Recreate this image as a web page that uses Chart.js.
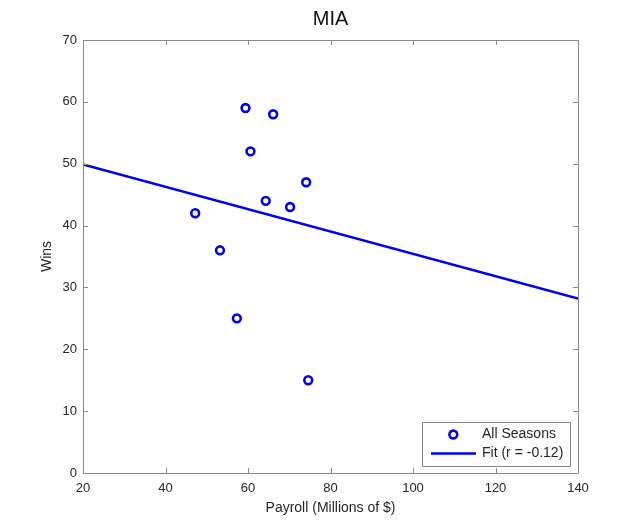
<!DOCTYPE html>
<html>
<head>
<meta charset="utf-8">
<script src="https://cdn.jsdelivr.net/npm/chart.js@4"></script>
<style>
html,body{margin:0;padding:0;background:#fff;}
#wrap{width:638px;height:532px;}
</style>
</head>
<body>
<div id="wrap"><canvas id="c" width="638" height="532"></canvas></div>
<script>
// Data
const payroll = [59.4, 66.1, 60.6, 74.1, 64.3, 70.2, 47.2, 53.2, 57.3, 74.6];
const wins    = [59,   58,   52,   47,   44,   43,   42,   36,   25,   15];
const fitX = [20, 140];
const fitY = [49.9, 28.2];
const xTicks = [20, 40, 60, 80, 100, 120, 140];
const yTicks = [0, 10, 20, 30, 40, 50, 60, 70];

const BLUE = '#0000ff';
const AXIS = '#8a8a8a';
const TEXT = '#262626';
const FONT = '"Liberation Sans", Arial, Helvetica, sans-serif';

const pts = payroll.map((x, i) => ({x: x, y: wins[i]}));
const fit = fitX.map((x, i) => ({x: x, y: fitY[i]}));

const boxPlugin = {
  id: 'boxTicks',
  afterDatasetsDraw(chart) {
    const {ctx, chartArea: a, scales: {x, y}} = chart;
    ctx.save();
    ctx.strokeStyle = AXIS;
    ctx.lineWidth = 1;
    ctx.beginPath();
    ctx.rect(Math.round(a.left) + 0.5, Math.round(a.top) + 0.5,
             Math.round(a.right - a.left), Math.round(a.bottom - a.top));
    ctx.stroke();
    const L = 5;
    ctx.beginPath();
    xTicks.forEach(v => {
      const px = Math.round(x.getPixelForValue(v)) + 0.5;
      ctx.moveTo(px, a.bottom); ctx.lineTo(px, a.bottom - L);
      ctx.moveTo(px, a.top); ctx.lineTo(px, a.top + L);
    });
    yTicks.forEach(v => {
      const py = Math.round(y.getPixelForValue(v)) + 0.5;
      ctx.moveTo(a.left, py); ctx.lineTo(a.left + L, py);
      ctx.moveTo(a.right, py); ctx.lineTo(a.right - L, py);
    });
    ctx.stroke();

    // Legend box (lower right, inside axes)
    const ds = chart.data.datasets;
    const bx = 422.5, by = 422.5, bw = 148, bh = 44;
    ctx.fillStyle = '#fff';
    ctx.fillRect(bx, by, bw, bh);
    ctx.strokeStyle = AXIS;
    ctx.strokeRect(bx, by, bw, bh);
    ctx.font = '14px ' + FONT;
    ctx.fillStyle = TEXT;
    ctx.textBaseline = 'middle';
    ctx.textAlign = 'left';
    // row 1: marker
    ctx.strokeStyle = ds[0].borderColor;
    ctx.lineWidth = ds[0].borderWidth;
    ctx.beginPath();
    ctx.arc(453.3, 434.5, ds[0].pointRadius, 0, Math.PI * 2);
    ctx.stroke();
    ctx.fillText(ds[0].label, 482, 434.5);
    // row 2: line
    ctx.strokeStyle = ds[1].borderColor;
    ctx.lineWidth = ds[1].borderWidth;
    ctx.beginPath();
    ctx.moveTo(431, 453.5); ctx.lineTo(476, 453.5);
    ctx.stroke();
    ctx.fillText(ds[1].label, 482, 453.5);
    ctx.restore();
  }
};

new Chart(document.getElementById('c'), {
  type: 'scatter',
  data: {
    datasets: [
      {
        label: 'All Seasons',
        data: pts,
        borderColor: BLUE,
        backgroundColor: 'rgba(0,0,0,0)',
        borderWidth: 2.6,
        pointRadius: 3.9,
        pointHoverRadius: 3.9,
        showLine: false,
        order: 1
      },
      {
        label: 'Fit (r = -0.12)',
        data: fit,
        type: 'line',
        borderColor: BLUE,
        backgroundColor: BLUE,
        borderWidth: 2.5,
        pointRadius: 0,
        fill: false,
        tension: 0,
        order: 2
      }
    ]
  },
  options: {
    responsive: false,
    animation: false,
    events: [],
    layout: {padding: {top: 0, right: 60, left: 0, bottom: 0}},
    plugins: {
      legend: {display: false},
      tooltip: {enabled: false},
      title: {
        display: true,
        text: 'MIA',
        fullSize: false,
        color: '#111',
        font: {family: FONT, size: 20, weight: 'normal'},
        padding: {top: 7.5, bottom: 8.5}
      }
    },
    scales: {
      x: {
        type: 'linear',
        min: 20, max: 140,
        afterBuildTicks: s => { s.ticks = xTicks.map(v => ({value: v})); },
        afterFit: s => { s.height = 59; },
        grid: {display: false, drawTicks: false},
        border: {display: false},
        ticks: {color: TEXT, font: {family: FONT, size: 13}, padding: 7.5, maxRotation: 0, autoSkip: false},
        title: {display: true, text: 'Payroll (Millions of $)', color: TEXT,
                font: {family: FONT, size: 14}, padding: {top: 0, bottom: 15.8}}
      },
      y: {
        type: 'linear',
        min: 0, max: 70,
        afterBuildTicks: s => { s.ticks = yTicks.map(v => ({value: v})); },
        afterFit: s => { s.width = 83; },
        grid: {display: false, drawTicks: false},
        border: {display: false},
        ticks: {color: TEXT, font: {family: FONT, size: 13}, padding: 6, autoSkip: false},
        title: {display: true, text: 'Wins', color: TEXT,
                font: {family: FONT, size: 14}, padding: {top: 38.6, bottom: 0}}
      }
    }
  },
  plugins: [boxPlugin]
});
</script>
</body>
</html>
